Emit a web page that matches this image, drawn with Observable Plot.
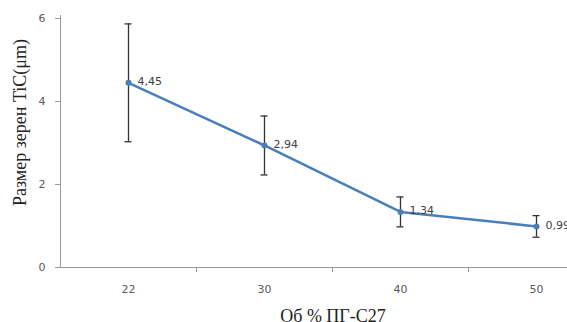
<!DOCTYPE html>
<html>
<head>
<meta charset="utf-8">
<script src="https://cdn.jsdelivr.net/npm/d3@7"></script>
<script src="https://cdn.jsdelivr.net/npm/@observablehq/plot@0.6"></script>
<style>
  html, body { margin: 0; padding: 0; background: #fff; overflow: hidden; }
  #chart svg { display: block; }
</style>
</head>
<body>
<div id="chart"></div>
<script>
const categories = ["22", "30", "40", "50"];
const sizes = [4.45, 2.94, 1.34, 0.99];
const errors = [1.42, 0.71, 0.36, 0.26];
const valueLabels = ["4,45", "2,94", "1,34", "0,99"];
const yTicks = [0, 2, 4, 6];
const yTitle = "Размер зерен TiC(μm)";
const xTitle = "Об % ПГ-С27";

const data = categories.map((c, i) => ({
  cat: c, v: sizes[i], lo: sizes[i] - errors[i], hi: sizes[i] + errors[i], label: valueLabels[i]
}));

const bw = (604 - 60) / categories.length;
const tickFont = "DejaVu Sans, sans-serif";

const chart = Plot.plot({
  width: 567,
  height: 322,
  marginLeft: 60,
  marginRight: 0,
  marginTop: 15,
  marginBottom: 55,
  style: { background: "white", overflow: "hidden" },
  x: { type: "band", domain: categories, range: [60, 604], padding: 0, axis: null },
  y: { domain: [0, 6], range: [267, 18], axis: null },
  marks: [
    Plot.frame({ anchor: "left", stroke: "#9a9a9a" }),
    Plot.ruleY([0], { stroke: "#9a9a9a" }),
    Plot.axisY({ ticks: yTicks, tickSize: 5, tickPadding: 10, tickFormat: d => String(d),
      stroke: "#9a9a9a", fill: "#595959", fontSize: 11, fontFamily: tickFont, label: null }),
    Plot.axisX({ ticks: categories.slice(0, 3), tickSize: 5, tickFormat: () => "", dx: bw / 2,
      stroke: "#9a9a9a", label: null }),
    Plot.axisX({ tickSize: 0, tickPadding: 18, fill: "#595959", fontSize: 11,
      fontFamily: tickFont, label: null }),
    Plot.ruleX(data, { x: "cat", y1: "lo", y2: "hi", stroke: "#333", strokeWidth: 1.3 }),
    Plot.tickY(data, { x: "cat", y: "lo", stroke: "#333", strokeWidth: 1.3, insetLeft: bw / 2 - 3.5, insetRight: bw / 2 - 3.5 }),
    Plot.tickY(data, { x: "cat", y: "hi", stroke: "#333", strokeWidth: 1.3, insetLeft: bw / 2 - 3.5, insetRight: bw / 2 - 3.5 }),
    Plot.line(data, { x: "cat", y: "v", stroke: "#4A7EBB", strokeWidth: 2.5 }),
    Plot.dot(data, { x: "cat", y: "v", r: 3, fill: "#4A7EBB", stroke: "none" }),
    Plot.text(data, { x: "cat", y: "v", text: "label", textAnchor: "start", dx: 9, dy: -1,
      fill: "#404040", fontSize: 11, fontFamily: tickFont }),
    Plot.text([yTitle], { frameAnchor: "left", rotate: -90, textAnchor: "middle", dx: -40, dy: -19,
      fontFamily: "Liberation Serif, serif", fontSize: 18, fill: "#222", lineAnchor: "middle" }),
    Plot.text([xTitle], { frameAnchor: "bottom", dx: 19, dy: 42, lineAnchor: "top",
      fontFamily: "Liberation Serif, serif", fontSize: 18, fill: "#222" })
  ]
});
document.getElementById("chart").appendChild(chart);
</script>
</body>
</html>
